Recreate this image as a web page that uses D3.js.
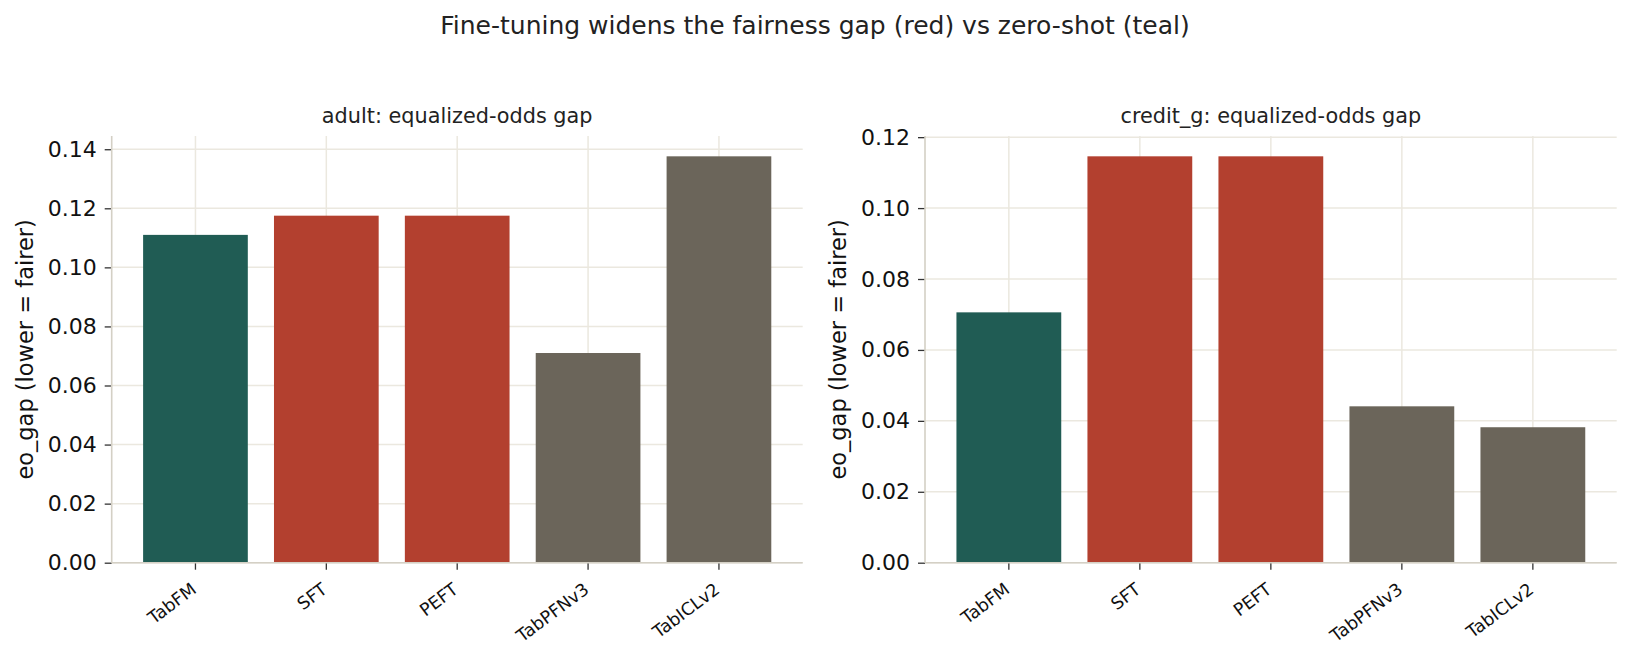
<!DOCTYPE html>
<html>
<head>
<meta charset="utf-8">
<script src="https://cdn.jsdelivr.net/npm/d3@7"></script>
<style>
  html, body { margin: 0; padding: 0; background: #ffffff; }
  svg { display: block; font-family: "DejaVu Sans", sans-serif; }
</style>
</head>
<body>
<div id="chart"></div>
<script>
// values
const models = ['TabFM', 'SFT', 'PEFT', 'TabPFNv3', 'TabICLv2'];
const modelKind = ['zero-shot', 'fine-tune', 'fine-tune', 'baseline', 'baseline'];
const adultGap = [0.1110, 0.1175, 0.1175, 0.0710, 0.1376];
const creditGap = [0.0706, 0.1146, 0.1146, 0.0441, 0.0382];
const adultTicks = [0, 0.02, 0.04, 0.06, 0.08, 0.10, 0.12, 0.14];
const creditTicks = [0, 0.02, 0.04, 0.06, 0.08, 0.10, 0.12];

const kindColor = { 'zero-shot': '#205c54', 'fine-tune': '#b3402f', 'baseline': '#6b655a' };

const W = 1630, H = 654;
const svg = d3.select('#chart').append('svg').attr('width', W).attr('height', H);

svg.append('text')
    .attr('x', 815).attr('y', 34)
    .attr('text-anchor', 'middle')
    .attr('font-size', 25)
    .attr('fill', '#222')
    .text('Fine-tuning widens the fairness gap (red) vs zero-shot (teal)');

function drawPanel(opts) {
    const { left, right, top, bottom, values, ticks, title } = opts;
    const g = svg.append('g');

    const x = d3.scaleBand()
        .domain(models)
        .range([left, right])
        .paddingInner(0.2)
        .paddingOuter(0.24);

    const y = d3.scaleLinear()
        .domain([0, d3.max(values) * 1.05])
        .range([bottom, top]);

    // grid
    g.append('g').selectAll('line.hg')
        .data(ticks)
        .enter().append('line')
        .attr('x1', left).attr('x2', right)
        .attr('y1', d => y(d)).attr('y2', d => y(d))
        .attr('stroke', '#ebe8df').attr('stroke-width', 1.5);
    g.append('g').selectAll('line.vg')
        .data(models)
        .enter().append('line')
        .attr('x1', d => x(d) + x.bandwidth() / 2).attr('x2', d => x(d) + x.bandwidth() / 2)
        .attr('y1', top).attr('y2', bottom)
        .attr('stroke', '#ebe8df').attr('stroke-width', 1.5);

    // bars
    g.append('g').selectAll('rect')
        .data(models)
        .enter().append('rect')
        .attr('x', d => x(d))
        .attr('width', x.bandwidth())
        .attr('y', (d, i) => y(values[i]))
        .attr('height', (d, i) => bottom - y(values[i]))
        .attr('fill', (d, i) => kindColor[modelKind[i]]);

    // y axis
    const yAxis = g.append('g')
        .attr('transform', `translate(${left},0)`)
        .call(d3.axisLeft(y).tickValues(ticks).tickFormat(d3.format('.2f')).tickSize(7).tickPadding(8));
    yAxis.select('.domain').remove();
    yAxis.selectAll('.tick line').attr('stroke', '#333').attr('stroke-width', 1.3);
    yAxis.selectAll('.tick text')
        .attr('font-family', 'DejaVu Sans')
        .attr('font-size', 22)
        .attr('fill', '#111');

    // x axis
    const xAxis = g.append('g')
        .attr('transform', `translate(0,${bottom})`)
        .call(d3.axisBottom(x).tickSize(7).tickPadding(0));
    xAxis.select('.domain').remove();
    xAxis.selectAll('.tick line').attr('stroke', '#333').attr('stroke-width', 1.3);
    xAxis.selectAll('.tick text')
        .attr('font-family', 'DejaVu Sans')
        .attr('font-size', 17.5)
        .attr('fill', '#111')
        .attr('text-anchor', 'end')
        .attr('dy', null)
        .attr('y', 29)
        .attr('x', 2)
        .attr('transform', 'rotate(-37 2 29)');

    // spines
    g.append('line')
        .attr('x1', left).attr('x2', left).attr('y1', top).attr('y2', bottom)
        .attr('stroke', '#d4d0c5').attr('stroke-width', 1.6);
    g.append('line')
        .attr('x1', left).attr('x2', right).attr('y1', bottom).attr('y2', bottom)
        .attr('stroke', '#d4d0c5').attr('stroke-width', 1.6);

    // titles
    g.append('text')
        .attr('x', (left + right) / 2).attr('y', top - 13)
        .attr('text-anchor', 'middle')
        .attr('font-size', 20.8)
        .attr('fill', '#222')
        .text(title);

    g.append('text')
        .attr('transform', `translate(${left - 79},${(top + bottom) / 2}) rotate(-90)`)
        .attr('text-anchor', 'middle')
        .attr('font-size', 22.5)
        .attr('fill', '#111')
        .text('eo_gap (lower = fairer)');
}

drawPanel({ left: 111.7, right: 802.7, top: 136, bottom: 562.7, values: adultGap, ticks: adultTicks, title: 'adult: equalized-odds gap' });
drawPanel({ left: 925, right: 1616.7, top: 136, bottom: 562.7, values: creditGap, ticks: creditTicks, title: 'credit_g: equalized-odds gap' });
</script>
</body>
</html>
